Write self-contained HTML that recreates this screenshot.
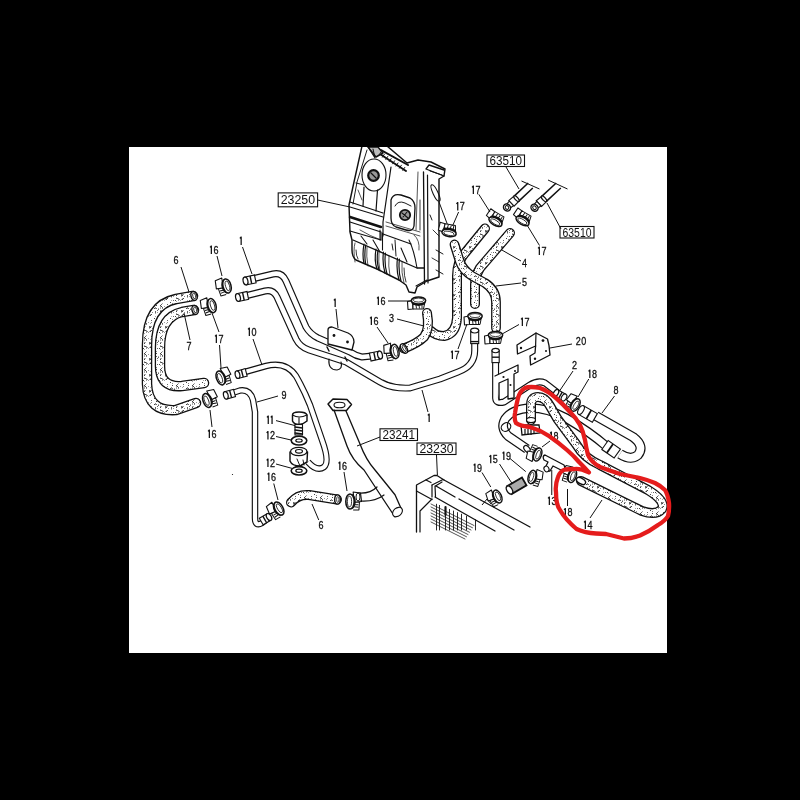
<!DOCTYPE html>
<html><head><meta charset="utf-8">
<style>
html,body{margin:0;padding:0;background:#000;width:800px;height:800px;overflow:hidden}
svg{position:absolute;left:0;top:0;will-change:transform}
text{font-family:"Liberation Sans",sans-serif;fill:#111}
</style></head><body>
<svg width="800" height="800" viewBox="0 0 800 800">
<defs>
<pattern id="st" width="16" height="16" patternUnits="userSpaceOnUse"><rect width="16" height="16" fill="#fff"/><rect x="0" y="1" width="1" height="1" fill="#444"/><rect x="0" y="2" width="1" height="1" fill="#aaa"/><rect x="0" y="3" width="1" height="1" fill="#aaa"/><rect x="0" y="4" width="1" height="1" fill="#aaa"/><rect x="0" y="6" width="1" height="1" fill="#999"/><rect x="0" y="7" width="1" height="1" fill="#444"/><rect x="0" y="9" width="1" height="1" fill="#aaa"/><rect x="0" y="10" width="1" height="1" fill="#666"/><rect x="0" y="13" width="1" height="1" fill="#aaa"/><rect x="1" y="0" width="1" height="1" fill="#666"/><rect x="1" y="2" width="1" height="1" fill="#444"/><rect x="1" y="6" width="1" height="1" fill="#aaa"/><rect x="1" y="10" width="1" height="1" fill="#444"/><rect x="2" y="3" width="1" height="1" fill="#666"/><rect x="2" y="4" width="1" height="1" fill="#888"/><rect x="2" y="10" width="1" height="1" fill="#999"/><rect x="2" y="11" width="1" height="1" fill="#888"/><rect x="2" y="12" width="1" height="1" fill="#999"/><rect x="2" y="15" width="1" height="1" fill="#aaa"/><rect x="3" y="11" width="1" height="1" fill="#888"/><rect x="4" y="2" width="1" height="1" fill="#999"/><rect x="4" y="12" width="1" height="1" fill="#999"/><rect x="5" y="6" width="1" height="1" fill="#666"/><rect x="5" y="7" width="1" height="1" fill="#666"/><rect x="5" y="8" width="1" height="1" fill="#aaa"/><rect x="5" y="11" width="1" height="1" fill="#aaa"/><rect x="6" y="3" width="1" height="1" fill="#aaa"/><rect x="6" y="6" width="1" height="1" fill="#999"/><rect x="6" y="7" width="1" height="1" fill="#444"/><rect x="6" y="10" width="1" height="1" fill="#aaa"/><rect x="6" y="11" width="1" height="1" fill="#444"/><rect x="7" y="0" width="1" height="1" fill="#666"/><rect x="7" y="2" width="1" height="1" fill="#888"/><rect x="7" y="6" width="1" height="1" fill="#999"/><rect x="7" y="10" width="1" height="1" fill="#444"/><rect x="8" y="8" width="1" height="1" fill="#888"/><rect x="10" y="4" width="1" height="1" fill="#444"/><rect x="10" y="14" width="1" height="1" fill="#444"/><rect x="11" y="3" width="1" height="1" fill="#888"/><rect x="11" y="4" width="1" height="1" fill="#999"/><rect x="11" y="7" width="1" height="1" fill="#666"/><rect x="11" y="8" width="1" height="1" fill="#666"/><rect x="11" y="9" width="1" height="1" fill="#aaa"/><rect x="11" y="12" width="1" height="1" fill="#aaa"/><rect x="12" y="1" width="1" height="1" fill="#444"/><rect x="12" y="4" width="1" height="1" fill="#666"/><rect x="12" y="15" width="1" height="1" fill="#888"/><rect x="13" y="6" width="1" height="1" fill="#666"/><rect x="13" y="8" width="1" height="1" fill="#999"/><rect x="13" y="12" width="1" height="1" fill="#666"/><rect x="14" y="4" width="1" height="1" fill="#aaa"/><rect x="14" y="5" width="1" height="1" fill="#666"/><rect x="15" y="12" width="1" height="1" fill="#444"/></pattern>
<clipPath id="cl"><rect x="129" y="147" width="538" height="506"/></clipPath>
</defs>
<rect x="129" y="147" width="538" height="506" fill="#fff"/>
<g clip-path="url(#cl)">
<path d="M362,146 L387,146 L407,163 L418,160 L431,162 L445,169 L444,176 L439,179 L439,277 L427,281 L417,287 L415,293 L409,292 L406,285 L399,280 L385,273 L377,269 L364,263.5 L356,260 Q352,257 352,250 L352,240 L350,232 L349,205 L354,182 Z" stroke="#111" stroke-width="1.44" fill="#fff" stroke-linejoin="round" stroke-linecap="round"/>
<path d="M377,152 L406,171 M381,150 L408,165" stroke="#111" stroke-width="1.92" fill="none" stroke-linejoin="round" stroke-linecap="round"/>
<path d="M368,147 L378,147 L383,153 L376,157 Z" stroke="#111" stroke-width="1.44" fill="#bbb" stroke-linejoin="round" stroke-linecap="round"/>
<path d="M381.0,152.0 L379.0,155.0" stroke="#111" stroke-width="0.96" fill="none" stroke-linejoin="round" stroke-linecap="round"/>
<path d="M384.4,154.2 L382.4,157.2" stroke="#111" stroke-width="0.96" fill="none" stroke-linejoin="round" stroke-linecap="round"/>
<path d="M387.8,156.4 L385.8,159.4" stroke="#111" stroke-width="0.96" fill="none" stroke-linejoin="round" stroke-linecap="round"/>
<path d="M391.2,158.6 L389.2,161.6" stroke="#111" stroke-width="0.96" fill="none" stroke-linejoin="round" stroke-linecap="round"/>
<path d="M394.6,160.8 L392.6,163.8" stroke="#111" stroke-width="0.96" fill="none" stroke-linejoin="round" stroke-linecap="round"/>
<path d="M398.0,163.0 L396.0,166.0" stroke="#111" stroke-width="0.96" fill="none" stroke-linejoin="round" stroke-linecap="round"/>
<path d="M401.4,165.2 L399.4,168.2" stroke="#111" stroke-width="0.96" fill="none" stroke-linejoin="round" stroke-linecap="round"/>
<path d="M404.8,167.4 L402.8,170.4" stroke="#111" stroke-width="0.96" fill="none" stroke-linejoin="round" stroke-linecap="round"/>
<path d="M368,147 L375,158 L373,149" stroke="#111" stroke-width="1.08" fill="none" stroke-linejoin="round" stroke-linecap="round"/>
<path d="M391,167 L383,222 L383,236" stroke="#111" stroke-width="1.20" fill="none" stroke-linejoin="round" stroke-linecap="round"/>
<path d="M367,150 L357,182 L353,204" stroke="#111" stroke-width="0.96" fill="none" stroke-linejoin="round" stroke-linecap="round"/>
<ellipse cx="374" cy="175" rx="12" ry="16" fill="none" stroke="#111" stroke-width="1.1" transform="rotate(0 374 175)"/>
<ellipse cx="373.5" cy="175.5" rx="5.3" ry="5.3" fill="#999" stroke="#111" stroke-width="2.2" transform="rotate(0 373.5 175.5)"/>
<path d="M371,173 L376,178" stroke="#111" stroke-width="1.20" fill="none" stroke-linejoin="round" stroke-linecap="round"/>
<path d="M364,187 L363,206 M377.5,190 L376,211" stroke="#111" stroke-width="1.20" fill="none" stroke-linejoin="round" stroke-linecap="round"/>
<path d="M356,183 L364,185" stroke="#111" stroke-width="0.96" fill="none" stroke-linejoin="round" stroke-linecap="round"/>
<path d="M350,202 L383,213" stroke="#111" stroke-width="1.20" fill="none" stroke-linejoin="round" stroke-linecap="round"/>
<path d="M350,207 L383,217" stroke="#111" stroke-width="1.08" fill="none" stroke-linejoin="round" stroke-linecap="round"/>
<path d="M350,217 L381,227" stroke="#111" stroke-width="2.40" fill="none" stroke-linejoin="round" stroke-linecap="round"/>
<path d="M350,222 L381,232 L381,240 L350,231" stroke="#111" stroke-width="1.20" fill="none" stroke-linejoin="round" stroke-linecap="round"/>
<path d="M353,240 L417,268 L424,268" stroke="#111" stroke-width="1.32" fill="none" stroke-linejoin="round" stroke-linecap="round"/>
<path d="M364,244 Q362,255 364,263.5 M365.7,245 Q364,255 365.7,264 M376,249 Q374,260 377,269 M378,250 Q376,260 379,270" stroke="#111" stroke-width="1.20" fill="none" stroke-linejoin="round" stroke-linecap="round"/>
<path d="M383.5,252 Q382,262 385,273 M385.5,253 Q384,263 387,274 M397.5,258 Q396,270 399,280 M399.5,259 Q398,270 401,281" stroke="#111" stroke-width="1.20" fill="none" stroke-linejoin="round" stroke-linecap="round"/>
<path d="M383,234 L411,244" stroke="#111" stroke-width="1.20" fill="none" stroke-linejoin="round" stroke-linecap="round"/>
<path d="M380,230 L380,240 M382.5,233 L382.5,250" stroke="#111" stroke-width="1.08" fill="none" stroke-linejoin="round" stroke-linecap="round"/>
<path d="M395,240 L396,256 M392,244 L393,250" stroke="#111" stroke-width="0.96" fill="none" stroke-linejoin="round" stroke-linecap="round"/>
<path d="M409,240 Q414,250 417,268" stroke="#111" stroke-width="1.08" fill="none" stroke-linejoin="round" stroke-linecap="round"/>
<path d="M361,236 L367,244 M373,240 L380,252 M401,248 L407,262" stroke="#111" stroke-width="1.08" fill="none" stroke-linejoin="round" stroke-linecap="round"/>
<path d="M416,286 L427,280" stroke="#111" stroke-width="1.08" fill="none" stroke-linejoin="round" stroke-linecap="round"/>
<path d="M355,262 Q353,250 355,243 M368,266 Q366,256 367,247 M380,271 Q378,262 379,252 M390,276 Q388,266 389,256 M404,283 Q401,272 402,262" stroke="#111" stroke-width="0.72" fill="none" stroke-linejoin="round" stroke-linecap="round"/>
<path d="M386,222 L420,232 M386,226 L420,236" stroke="#111" stroke-width="0.72" fill="none" stroke-linejoin="round" stroke-linecap="round"/>
<path d="M418,172 L416,230 M414,235 Q420,240 419,250" stroke="#111" stroke-width="0.72" fill="none" stroke-linejoin="round" stroke-linecap="round"/>
<path d="M358,190 L362,200 M360,230 Q370,236 381,240" stroke="#111" stroke-width="0.72" fill="none" stroke-linejoin="round" stroke-linecap="round"/>
<path d="M433,230 L439,236 M432,258 L439,262" stroke="#111" stroke-width="0.84" fill="none" stroke-linejoin="round" stroke-linecap="round"/>
<path d="M356,250 Q356,256 358,259 M404,268 Q404,276 406,282" stroke="#111" stroke-width="0.84" fill="none" stroke-linejoin="round" stroke-linecap="round"/>
<path d="M423.5,172 L424.5,284" stroke="#111" stroke-width="1.32" fill="none" stroke-linejoin="round" stroke-linecap="round"/>
<path d="M427.5,175 L428,283" stroke="#111" stroke-width="1.20" fill="none" stroke-linejoin="round" stroke-linecap="round"/>
<path d="M420,200 L420,230" stroke="#111" stroke-width="0.84" fill="none" stroke-linejoin="round" stroke-linecap="round"/>
<path d="M426,169 L444,176 M426,169 L429,165 L444,170" stroke="#111" stroke-width="1.32" fill="none" stroke-linejoin="round" stroke-linecap="round"/>
<path d="M430,171 L442,175" stroke="#111" stroke-width="0.96" fill="none" stroke-linejoin="round" stroke-linecap="round"/>
<path d="M391,200 Q393,193 401,195 L410,198 Q415,201 415,208 L414,226 Q413,232 406,230 L396,227 Q391,225 391,218 Z" stroke="#111" stroke-width="1.32" fill="none" stroke-linejoin="round" stroke-linecap="round"/>
<path d="M395,206 Q398,200 405,203 L411,206" stroke="#111" stroke-width="0.96" fill="none" stroke-linejoin="round" stroke-linecap="round"/>
<ellipse cx="405" cy="215" rx="5.2" ry="5.2" fill="#999" stroke="#111" stroke-width="1.8" transform="rotate(0 405 215)"/>
<path d="M402,213 L408,218 M403,217 L407,212" stroke="#111" stroke-width="1.08" fill="none" stroke-linejoin="round" stroke-linecap="round"/>
<ellipse cx="435.5" cy="193" rx="2.5" ry="9" fill="none" stroke="#111" stroke-width="1.1" transform="rotate(-25 435.5 193)"/>
<path d="M439,202 L448,226" stroke="#111" stroke-width="1.0" fill="none"/>
<path d="M430,215 L432,220 M436,250 L443,254 M436,270 L443,274" stroke="#111" stroke-width="0.96" fill="none" stroke-linejoin="round" stroke-linecap="round"/>
<rect x="278.2" y="192.9" width="39.400000000000034" height="13.900000000000006" fill="#fff" stroke="#111" stroke-width="1.1"/>
<text x="297.9" y="204.35000000000002" font-size="12.5" text-anchor="middle" textLength="34.400000000000034" lengthAdjust="spacingAndGlyphs">23250</text>
<path d="M317.6,200 L350,207" stroke="#111" stroke-width="1.0" fill="none"/>
<path d="M193,296 L176,299 Q147,305 147,345 L147,384 Q148,412 176,410 L196,403" stroke="#111" stroke-width="10.5" fill="none" stroke-linecap="round" stroke-linejoin="round"/>
<path d="M193,296 L176,299 Q147,305 147,345 L147,384 Q148,412 176,410 L196,403" stroke="url(#st)" stroke-width="7.9" fill="none" stroke-linecap="round" stroke-linejoin="round"/>
<path d="M194,310 L182,312 Q160,317 160,348 L160,366 Q160,388 182,386 L204,383" stroke="#111" stroke-width="10.5" fill="none" stroke-linecap="round" stroke-linejoin="round"/>
<path d="M194,310 L182,312 Q160,317 160,348 L160,366 Q160,388 182,386 L204,383" stroke="url(#st)" stroke-width="7.9" fill="none" stroke-linecap="round" stroke-linejoin="round"/>
<ellipse cx="194" cy="296" rx="3" ry="4.6" fill="#fff" stroke="#111" stroke-width="1.4" transform="rotate(-15 194 296)"/>
<ellipse cx="194.2" cy="296" rx="1.4" ry="3" fill="#fff" stroke="#111" stroke-width="0.8" transform="rotate(-15 194.2 296)"/>
<ellipse cx="195" cy="310" rx="3" ry="4.6" fill="#fff" stroke="#111" stroke-width="1.4" transform="rotate(-15 195 310)"/>
<ellipse cx="195.2" cy="310" rx="1.4" ry="3" fill="#fff" stroke="#111" stroke-width="0.8" transform="rotate(-15 195.2 310)"/>
<text x="0" y="0" font-size="11" text-anchor="start" stroke="#111" stroke-width="0.3" transform="translate(173.49,263.96) scale(0.82,1)">6</text>
<path d="M181,267 L189,292" stroke="#111" stroke-width="1.0" fill="none"/>
<text x="0" y="0" font-size="11" text-anchor="start" stroke="#111" stroke-width="0.3" transform="translate(186.49,349.96) scale(0.82,1)">7</text>
<path d="M190,340 L184,313" stroke="#111" stroke-width="1.0" fill="none"/>
<g transform="translate(227,286) rotate(-15) scale(-1.0,1.0)"><path d="M3,-9 L10,-8 L11,0 L4,1 Z" fill="#fff" stroke="#111" stroke-width="1.1" stroke-linejoin="round"/><path d="M3,1 L9,0.5 L8.5,8 L3,8" fill="#fff" stroke="#111" stroke-width="1.0" stroke-linejoin="round"/><path d="M4,3 L8,3 M4,5 L8,5.5" stroke="#111" stroke-width="1.0"/><path d="M0,-7.2 A4,7.2 0 0 1 0,7.2 L1.5,7.2 A4,7.2 0 0 0 1.5,-7.2 Z" fill="#111"/><ellipse cx="0" cy="0" rx="4" ry="7.2" fill="#fff" stroke="#111" stroke-width="1.5"/><ellipse cx="-0.5" cy="0" rx="2" ry="5" fill="none" stroke="#111" stroke-width="0.8"/></g>
<path d="M210.05,247.40 L211.35,246.05 L211.35,253.95" stroke="#111" stroke-width="1.25" fill="none" stroke-linejoin="round"/>
<text x="0" y="0" font-size="11" text-anchor="start" stroke="#111" stroke-width="0.3" transform="translate(213.39,253.96) scale(0.82,1)">6</text>
<path d="M217,256 L222,276" stroke="#111" stroke-width="1.0" fill="none"/>
<g transform="translate(212,305.6) rotate(-15) scale(-1.0,1.0)"><path d="M3,-9 L10,-8 L11,0 L4,1 Z" fill="#fff" stroke="#111" stroke-width="1.1" stroke-linejoin="round"/><path d="M3,1 L9,0.5 L8.5,8 L3,8" fill="#fff" stroke="#111" stroke-width="1.0" stroke-linejoin="round"/><path d="M4,3 L8,3 M4,5 L8,5.5" stroke="#111" stroke-width="1.0"/><path d="M0,-7.2 A4,7.2 0 0 1 0,7.2 L1.5,7.2 A4,7.2 0 0 0 1.5,-7.2 Z" fill="#111"/><ellipse cx="0" cy="0" rx="4" ry="7.2" fill="#fff" stroke="#111" stroke-width="1.5"/><ellipse cx="-0.5" cy="0" rx="2" ry="5" fill="none" stroke="#111" stroke-width="0.8"/></g>
<path d="M215.05,336.40 L216.35,335.05 L216.35,342.95" stroke="#111" stroke-width="1.25" fill="none" stroke-linejoin="round"/>
<text x="0" y="0" font-size="11" text-anchor="start" stroke="#111" stroke-width="0.3" transform="translate(218.39,342.96) scale(0.82,1)">7</text>
<path d="M219,332 L212,313" stroke="#111" stroke-width="1.0" fill="none"/>
<path d="M219.5,345 L221,368" stroke="#111" stroke-width="1.0" fill="none"/>
<g transform="translate(220.5,378) rotate(-20) scale(1.0,1.0)"><path d="M3,-9 L10,-8 L11,0 L4,1 Z" fill="#fff" stroke="#111" stroke-width="1.1" stroke-linejoin="round"/><path d="M3,1 L9,0.5 L8.5,8 L3,8" fill="#fff" stroke="#111" stroke-width="1.0" stroke-linejoin="round"/><path d="M4,3 L8,3 M4,5 L8,5.5" stroke="#111" stroke-width="1.0"/><path d="M0,-7.2 A4,7.2 0 0 1 0,7.2 L1.5,7.2 A4,7.2 0 0 0 1.5,-7.2 Z" fill="#111"/><ellipse cx="0" cy="0" rx="4" ry="7.2" fill="#fff" stroke="#111" stroke-width="1.5"/><ellipse cx="-0.5" cy="0" rx="2" ry="5" fill="none" stroke="#111" stroke-width="0.8"/></g>
<g transform="translate(207,400.5) rotate(-20) scale(1.0,1.0)"><path d="M3,-9 L10,-8 L11,0 L4,1 Z" fill="#fff" stroke="#111" stroke-width="1.1" stroke-linejoin="round"/><path d="M3,1 L9,0.5 L8.5,8 L3,8" fill="#fff" stroke="#111" stroke-width="1.0" stroke-linejoin="round"/><path d="M4,3 L8,3 M4,5 L8,5.5" stroke="#111" stroke-width="1.0"/><path d="M0,-7.2 A4,7.2 0 0 1 0,7.2 L1.5,7.2 A4,7.2 0 0 0 1.5,-7.2 Z" fill="#111"/><ellipse cx="0" cy="0" rx="4" ry="7.2" fill="#fff" stroke="#111" stroke-width="1.5"/><ellipse cx="-0.5" cy="0" rx="2" ry="5" fill="none" stroke="#111" stroke-width="0.8"/></g>
<path d="M208.05,431.40 L209.35,430.05 L209.35,437.95" stroke="#111" stroke-width="1.25" fill="none" stroke-linejoin="round"/>
<text x="0" y="0" font-size="11" text-anchor="start" stroke="#111" stroke-width="0.3" transform="translate(211.39,437.96) scale(0.82,1)">6</text>
<path d="M210,410 L212,427" stroke="#111" stroke-width="1.0" fill="none"/>
<path d="M252,279 L273,274 Q282,272 286,281 L306,327 Q310,334 318,338 L350,352 Q356,356 362,357 L372,356" stroke="#111" stroke-width="7" fill="none" stroke-linecap="butt" stroke-linejoin="round"/>
<path d="M252,279 L273,274 Q282,272 286,281 L306,327 Q310,334 318,338 L350,352 Q356,356 362,357 L372,356" stroke="#fff" stroke-width="4.7" fill="none" stroke-linecap="butt" stroke-linejoin="round"/>
<path d="M245,296 L265,291 Q273,289 277,297 L296,339 Q300,347 309,350 L346,362 L380,382 Q392,389 410,388 L440,379 L458,372 Q475,366 474.7,350 L474.7,336" stroke="#111" stroke-width="7" fill="none" stroke-linecap="butt" stroke-linejoin="round"/>
<path d="M245,296 L265,291 Q273,289 277,297 L296,339 Q300,347 309,350 L346,362 L380,382 Q392,389 410,388 L440,379 L458,372 Q475,366 474.7,350 L474.7,336" stroke="#fff" stroke-width="4.7" fill="none" stroke-linecap="butt" stroke-linejoin="round"/>
<g transform="translate(245.5,281) rotate(-12)"><rect x="0" y="-4" width="10" height="8" fill="#fff" stroke="#111" stroke-width="1.1"/><path d="M5.5,-4 L5.5,4" stroke="#111" stroke-width="1.4"/><ellipse cx="0" cy="0" rx="2.4" ry="4" fill="#fff" stroke="#111" stroke-width="1.2"/></g>
<g transform="translate(238,297.5) rotate(-12)"><rect x="0" y="-4" width="10" height="8" fill="#fff" stroke="#111" stroke-width="1.1"/><path d="M5.5,-4 L5.5,4" stroke="#111" stroke-width="1.4"/><ellipse cx="0" cy="0" rx="2.4" ry="4" fill="#fff" stroke="#111" stroke-width="1.2"/></g>
<g transform="translate(380,355) rotate(168)"><rect x="0" y="-4" width="10" height="8" fill="#fff" stroke="#111" stroke-width="1.1"/><path d="M5.5,-4 L5.5,4" stroke="#111" stroke-width="1.4"/><ellipse cx="0" cy="0" rx="2.4" ry="4" fill="#fff" stroke="#111" stroke-width="1.2"/></g>
<g transform="translate(474.7,330.6) rotate(90)"><rect x="0" y="-4" width="13" height="8" fill="#fff" stroke="#111" stroke-width="1.1"/><path d="M11,-4 L11,4" stroke="#111" stroke-width="1.4"/><ellipse cx="0" cy="0" rx="2.4" ry="4" fill="#fff" stroke="#111" stroke-width="1.2"/></g>
<path d="M239.86,238.40 L241.16,237.05 L241.16,244.95" stroke="#111" stroke-width="1.25" fill="none" stroke-linejoin="round"/>
<path d="M242.5,247 L252,274" stroke="#111" stroke-width="1.0" fill="none"/>
<path d="M328,330 Q328,327 332,327 L348,333 Q354,336 354,342 L352,350 L328,344 Z" stroke="#111" stroke-width="1.32" fill="#fff" stroke-linejoin="round" stroke-linecap="round"/>
<circle cx="334" cy="335.5" r="1.4" fill="#111"/><circle cx="347.5" cy="342" r="1.4" fill="#111"/>
<path d="M329,359 Q328,370 337,370 Q343,369 341,362" stroke="#111" stroke-width="1.20" fill="none" stroke-linejoin="round" stroke-linecap="round"/>
<path d="M327,347 L329,351 M345,357 L347,361" stroke="#111" stroke-width="1.44" fill="none" stroke-linejoin="round" stroke-linecap="round"/>
<path d="M333.86,300.40 L335.16,299.05 L335.16,306.95" stroke="#111" stroke-width="1.25" fill="none" stroke-linejoin="round"/>
<path d="M336,309 L338,328" stroke="#111" stroke-width="1.0" fill="none"/>
<path d="M427.86,415.40 L429.16,414.05 L429.16,421.95" stroke="#111" stroke-width="1.25" fill="none" stroke-linejoin="round"/>
<path d="M428,412 L422,390" stroke="#111" stroke-width="1.0" fill="none"/>
<path d="M243,372.5 L266,366 Q286,361 296,376 Q304,390 310,405 L322,440 Q330,462 324,467 Q317,472 308,462" stroke="#111" stroke-width="6.5" fill="none" stroke-linecap="butt" stroke-linejoin="round"/>
<path d="M243,372.5 L266,366 Q286,361 296,376 Q304,390 310,405 L322,440 Q330,462 324,467 Q317,472 308,462" stroke="#fff" stroke-width="4.2" fill="none" stroke-linecap="butt" stroke-linejoin="round"/>
<path d="M231,393.5 L240,390.5 Q250,389 253,400 L255,412 L255,518 Q255,527 262,523 L266,520" stroke="#111" stroke-width="6.5" fill="none" stroke-linecap="butt" stroke-linejoin="round"/>
<path d="M231,393.5 L240,390.5 Q250,389 253,400 L255,412 L255,518 Q255,527 262,523 L266,520" stroke="#fff" stroke-width="4.2" fill="none" stroke-linecap="butt" stroke-linejoin="round"/>
<g transform="translate(237.5,374.7) rotate(-15)"><rect x="0" y="-3.8" width="9" height="7.6" fill="#fff" stroke="#111" stroke-width="1.1"/><path d="M4.95,-3.8 L4.95,3.8" stroke="#111" stroke-width="1.4"/><ellipse cx="0" cy="0" rx="2.28" ry="3.8" fill="#fff" stroke="#111" stroke-width="1.2"/></g>
<g transform="translate(225.8,395.3) rotate(-15)"><rect x="0" y="-3.8" width="9" height="7.6" fill="#fff" stroke="#111" stroke-width="1.1"/><path d="M4.95,-3.8 L4.95,3.8" stroke="#111" stroke-width="1.4"/><ellipse cx="0" cy="0" rx="2.28" ry="3.8" fill="#fff" stroke="#111" stroke-width="1.2"/></g>
<g transform="translate(269,517) rotate(150)"><rect x="0" y="-3.8" width="9" height="7.6" fill="#fff" stroke="#111" stroke-width="1.1"/><path d="M4.95,-3.8 L4.95,3.8" stroke="#111" stroke-width="1.4"/><ellipse cx="0" cy="0" rx="2.28" ry="3.8" fill="#fff" stroke="#111" stroke-width="1.2"/></g>
<path d="M248.05,329.40 L249.35,328.05 L249.35,335.95" stroke="#111" stroke-width="1.25" fill="none" stroke-linejoin="round"/>
<text x="0" y="0" font-size="11" text-anchor="start" stroke="#111" stroke-width="0.3" transform="translate(251.39,335.96) scale(0.82,1)">0</text>
<path d="M253,339 L262,365" stroke="#111" stroke-width="1.0" fill="none"/>
<text x="0" y="0" font-size="11" text-anchor="start" stroke="#111" stroke-width="0.3" transform="translate(281.49,398.96) scale(0.82,1)">9</text>
<path d="M278,396 L257,402" stroke="#111" stroke-width="1.0" fill="none"/>
<path d="M292.5,415 Q292.5,412 299,412 Q306,412 307,415 L307,421 Q303,424.5 299,424.5 Q294,424.5 292.5,421 Z" stroke="#111" stroke-width="1.44" fill="#fff" stroke-linejoin="round" stroke-linecap="round"/>
<path d="M292.5,415 Q299,419 307,415 M299,418 L299,424" stroke="#111" stroke-width="1.08" fill="none" stroke-linejoin="round" stroke-linecap="round"/>
<rect x="295" y="424.5" width="7.5" height="10.5" fill="#fff" stroke="#111" stroke-width="1.1"/>
<path d="M295,427 L302.5,428 M295,430 L302.5,431 M295,433 L302.5,434" stroke="#111" stroke-width="1.32" fill="none" stroke-linejoin="round" stroke-linecap="round"/>
<ellipse cx="299" cy="440.6" rx="7.8" ry="4.4" fill="#fff" stroke="#111" stroke-width="1.6" transform="rotate(0 299 440.6)"/>
<ellipse cx="299" cy="440.6" rx="3.2" ry="1.6" fill="#fff" stroke="#111" stroke-width="1.2" transform="rotate(0 299 440.6)"/>
<path d="M290,452 L290,461 Q292,466 300,466 L307,462 L307.5,452" stroke="#111" stroke-width="1.44" fill="#fff" stroke-linejoin="round" stroke-linecap="round"/>
<ellipse cx="298.75" cy="451.5" rx="8.2" ry="4.2" fill="#fff" stroke="#111" stroke-width="1.3" transform="rotate(0 298.75 451.5)"/>
<ellipse cx="299" cy="451.3" rx="3.5" ry="1.8" fill="#fff" stroke="#111" stroke-width="1.1" transform="rotate(0 299 451.3)"/>
<path d="M297,459 L300,466 M303,460 L304,465" stroke="#111" stroke-width="0.96" fill="none" stroke-linejoin="round" stroke-linecap="round"/>
<ellipse cx="299" cy="470.8" rx="7.8" ry="4.2" fill="#fff" stroke="#111" stroke-width="1.6" transform="rotate(0 299 470.8)"/>
<ellipse cx="299" cy="470.8" rx="3.2" ry="1.6" fill="#fff" stroke="#111" stroke-width="1.2" transform="rotate(0 299 470.8)"/>
<path d="M266.96,417.40 L268.26,416.05 L268.26,423.95" stroke="#111" stroke-width="1.25" fill="none" stroke-linejoin="round"/>
<path d="M270.76,417.40 L272.06,416.05 L272.06,423.95" stroke="#111" stroke-width="1.25" fill="none" stroke-linejoin="round"/>
<path d="M276,420.6 L295,425.6" stroke="#111" stroke-width="1.0" fill="none"/>
<path d="M266.65,432.90 L267.95,431.55 L267.95,439.45" stroke="#111" stroke-width="1.25" fill="none" stroke-linejoin="round"/>
<text x="0" y="0" font-size="11" text-anchor="start" stroke="#111" stroke-width="0.3" transform="translate(269.99,439.46) scale(0.82,1)">2</text>
<path d="M276,436.5 L291,440" stroke="#111" stroke-width="1.0" fill="none"/>
<path d="M266.65,460.40 L267.95,459.05 L267.95,466.95" stroke="#111" stroke-width="1.25" fill="none" stroke-linejoin="round"/>
<text x="0" y="0" font-size="11" text-anchor="start" stroke="#111" stroke-width="0.3" transform="translate(269.99,466.96) scale(0.82,1)">2</text>
<path d="M276,464 L292.5,468.5" stroke="#111" stroke-width="1.0" fill="none"/>
<path d="M267.55,474.40 L268.85,473.05 L268.85,480.95" stroke="#111" stroke-width="1.25" fill="none" stroke-linejoin="round"/>
<text x="0" y="0" font-size="11" text-anchor="start" stroke="#111" stroke-width="0.3" transform="translate(270.89,480.96) scale(0.82,1)">6</text>
<path d="M273.75,483.5 L278,500" stroke="#111" stroke-width="1.0" fill="none"/>
<circle cx="232.5" cy="474.5" r="0.6" fill="#111"/>
<path d="M291,502.5 Q298,494 309,495 L337,499.5" stroke="#111" stroke-width="10" fill="none" stroke-linecap="round" stroke-linejoin="round"/>
<path d="M291,502.5 Q298,494 309,495 L337,499.5" stroke="url(#st)" stroke-width="7.4" fill="none" stroke-linecap="round" stroke-linejoin="round"/>
<ellipse cx="337.5" cy="499.5" rx="2.8" ry="4.6" fill="#fff" stroke="#111" stroke-width="1.4" transform="rotate(0 337.5 499.5)"/>
<ellipse cx="337.8" cy="499.5" rx="1.2" ry="3" fill="#fff" stroke="#111" stroke-width="0.8" transform="rotate(0 337.8 499.5)"/>
<g transform="translate(279,508.5) rotate(-30) scale(-1.0,1.0)"><path d="M3,-9 L10,-8 L11,0 L4,1 Z" fill="#fff" stroke="#111" stroke-width="1.1" stroke-linejoin="round"/><path d="M3,1 L9,0.5 L8.5,8 L3,8" fill="#fff" stroke="#111" stroke-width="1.0" stroke-linejoin="round"/><path d="M4,3 L8,3 M4,5 L8,5.5" stroke="#111" stroke-width="1.0"/><path d="M0,-7.2 A4,7.2 0 0 1 0,7.2 L1.5,7.2 A4,7.2 0 0 0 1.5,-7.2 Z" fill="#111"/><ellipse cx="0" cy="0" rx="4" ry="7.2" fill="#fff" stroke="#111" stroke-width="1.5"/><ellipse cx="-0.5" cy="0" rx="2" ry="5" fill="none" stroke="#111" stroke-width="0.8"/></g>
<g transform="translate(350,501.5) rotate(0) scale(1.05,1.05)"><path d="M3,-9 L10,-8 L11,0 L4,1 Z" fill="#fff" stroke="#111" stroke-width="1.1" stroke-linejoin="round"/><path d="M3,1 L9,0.5 L8.5,8 L3,8" fill="#fff" stroke="#111" stroke-width="1.0" stroke-linejoin="round"/><path d="M4,3 L8,3 M4,5 L8,5.5" stroke="#111" stroke-width="1.0"/><path d="M0,-7.2 A4,7.2 0 0 1 0,7.2 L1.5,7.2 A4,7.2 0 0 0 1.5,-7.2 Z" fill="#111"/><ellipse cx="0" cy="0" rx="4" ry="7.2" fill="#fff" stroke="#111" stroke-width="1.5"/><ellipse cx="-0.5" cy="0" rx="2" ry="5" fill="none" stroke="#111" stroke-width="0.8"/></g>
<text x="0" y="0" font-size="11" text-anchor="start" stroke="#111" stroke-width="0.3" transform="translate(318.49,528.96) scale(0.82,1)">6</text>
<path d="M318.75,520 L312,504" stroke="#111" stroke-width="1.0" fill="none"/>
<path d="M338.55,463.40 L339.85,462.05 L339.85,469.95" stroke="#111" stroke-width="1.25" fill="none" stroke-linejoin="round"/>
<text x="0" y="0" font-size="11" text-anchor="start" stroke="#111" stroke-width="0.3" transform="translate(341.89,469.96) scale(0.82,1)">6</text>
<path d="M344,472 L347,491" stroke="#111" stroke-width="1.0" fill="none"/>
<path d="M328,404 L333,399 L347,399.5 L351.5,404.5 L346.5,410.5 L333,410.5 Z" stroke="#111" stroke-width="1.44" fill="#fff" stroke-linejoin="round" stroke-linecap="round"/>
<ellipse cx="339.5" cy="405" rx="5.5" ry="2.8" fill="#fff" stroke="#111" stroke-width="1.1" transform="rotate(0 339.5 405)"/>
<path d="M334,410 L347,446 Q352,460 364,470 L381.75,497 L395,517" stroke="#111" stroke-width="1.32" fill="none" stroke-linejoin="round" stroke-linecap="round"/>
<path d="M346,411 L360,444 Q366,460 375,470 L395,494.75 L402,510.5" stroke="#111" stroke-width="1.32" fill="none" stroke-linejoin="round" stroke-linecap="round"/>
<ellipse cx="397.5" cy="512" rx="5.5" ry="4" fill="#fff" stroke="#111" stroke-width="1.1" transform="rotate(-40 397.5 512)"/>
<path d="M377,487 Q370,494 358,493 M384,495 Q375,502 360,501" stroke="#111" stroke-width="1.20" fill="none" stroke-linejoin="round" stroke-linecap="round"/>
<ellipse cx="358" cy="497" rx="2" ry="4" fill="#fff" stroke="#111" stroke-width="1" transform="rotate(0 358 497)"/>
<rect x="380" y="428.8" width="37.5" height="11.699999999999989" fill="#fff" stroke="#111" stroke-width="1.1"/>
<text x="398.75" y="439.15" font-size="12.5" text-anchor="middle" textLength="32.5" lengthAdjust="spacingAndGlyphs">23241</text>
<path d="M380,437 L357,446" stroke="#111" stroke-width="1.0" fill="none"/>
<rect x="417" y="443" width="39" height="11.5" fill="#fff" stroke="#111" stroke-width="1.1"/>
<text x="436.5" y="453.25" font-size="12.5" text-anchor="middle" textLength="34" lengthAdjust="spacingAndGlyphs">23230</text>
<path d="M436.5,455 L437.4,475" stroke="#111" stroke-width="1.0" fill="none"/>
<path d="M416.5,532 L416.5,485 L434,475.5 L437,475.5 L444,480" stroke="#111" stroke-width="1.32" fill="none" stroke-linejoin="round" stroke-linecap="round"/>
<path d="M426,480 L431,482.5" stroke="#111" stroke-width="1.20" fill="none" stroke-linejoin="round" stroke-linecap="round"/>
<path d="M416.5,491 L432,499.5" stroke="#111" stroke-width="1.20" fill="none" stroke-linejoin="round" stroke-linecap="round"/>
<path d="M432,485 L432,497 M435,486 L435.5,496.5" stroke="#111" stroke-width="1.20" fill="none" stroke-linejoin="round" stroke-linecap="round"/>
<path d="M432,485 L443,479.5 M435.5,486 L442,482" stroke="#111" stroke-width="1.20" fill="none" stroke-linejoin="round" stroke-linecap="round"/>
<path d="M444,480 L530,527" stroke="#111" stroke-width="1.32" fill="none" stroke-linejoin="round" stroke-linecap="round"/>
<path d="M436,486 L455,497 M459,499 L514,530" stroke="#111" stroke-width="1.32" fill="none" stroke-linejoin="round" stroke-linecap="round"/>
<path d="M435,497 L495,531" stroke="#111" stroke-width="1.32" fill="none" stroke-linejoin="round" stroke-linecap="round"/>
<path d="M420,532 L420,511 L432,499" stroke="#111" stroke-width="1.20" fill="none" stroke-linejoin="round" stroke-linecap="round"/>
<path d="M431,504 L474.0,525.5" stroke="#111" stroke-width="0.72" fill="none" stroke-linejoin="round" stroke-linecap="round"/>
<path d="M431,507 L472.5,527.75" stroke="#111" stroke-width="0.72" fill="none" stroke-linejoin="round" stroke-linecap="round"/>
<path d="M431,510 L471.0,530.0" stroke="#111" stroke-width="0.72" fill="none" stroke-linejoin="round" stroke-linecap="round"/>
<path d="M431,513 L469.5,532.25" stroke="#111" stroke-width="0.72" fill="none" stroke-linejoin="round" stroke-linecap="round"/>
<path d="M431,516 L468.0,534.5" stroke="#111" stroke-width="0.72" fill="none" stroke-linejoin="round" stroke-linecap="round"/>
<path d="M431,519 L466.5,536.75" stroke="#111" stroke-width="0.72" fill="none" stroke-linejoin="round" stroke-linecap="round"/>
<path d="M431,522 L465.0,539.0" stroke="#111" stroke-width="0.72" fill="none" stroke-linejoin="round" stroke-linecap="round"/>
<path d="M436.5,504.2 L436.5,530" stroke="#111" stroke-width="0.90" fill="none" stroke-linejoin="round" stroke-linecap="round"/>
<path d="M439.5,505.4 L439.5,530" stroke="#111" stroke-width="0.90" fill="none" stroke-linejoin="round" stroke-linecap="round"/>
<path d="M445.5,507.8 L445.5,530" stroke="#111" stroke-width="0.90" fill="none" stroke-linejoin="round" stroke-linecap="round"/>
<path d="M449.5,509.4 L449.5,530" stroke="#111" stroke-width="0.90" fill="none" stroke-linejoin="round" stroke-linecap="round"/>
<path d="M453.5,511.0 L453.5,530" stroke="#111" stroke-width="0.90" fill="none" stroke-linejoin="round" stroke-linecap="round"/>
<path d="M457.5,512.6 L457.5,530" stroke="#111" stroke-width="0.90" fill="none" stroke-linejoin="round" stroke-linecap="round"/>
<path d="M461.5,514.2 L461.5,530" stroke="#111" stroke-width="0.90" fill="none" stroke-linejoin="round" stroke-linecap="round"/>
<path d="M466.5,516.2 L466.5,530" stroke="#111" stroke-width="0.90" fill="none" stroke-linejoin="round" stroke-linecap="round"/>
<path d="M475.5,519.8 L475.5,530" stroke="#111" stroke-width="0.90" fill="none" stroke-linejoin="round" stroke-linecap="round"/>
<path d="M445.5,507 L445.5,515" stroke="#111" stroke-width="2.16" fill="none" stroke-linejoin="round" stroke-linecap="round"/>
<path d="M485,228.5 L465,253 Q457,262 457,276 L457,318 Q456,334 444,336 Q436,336 431,331" stroke="#111" stroke-width="10" fill="none" stroke-linecap="round" stroke-linejoin="round"/>
<path d="M485,228.5 L465,253 Q457,262 457,276 L457,318 Q456,334 444,336 Q436,336 431,331" stroke="url(#st)" stroke-width="7.4" fill="none" stroke-linecap="round" stroke-linejoin="round"/>
<path d="M404,348.5 Q418,343 424,337 Q430,329 427,313" stroke="#111" stroke-width="10" fill="none" stroke-linecap="round" stroke-linejoin="round"/>
<path d="M404,348.5 Q418,343 424,337 Q430,329 427,313" stroke="url(#st)" stroke-width="7.4" fill="none" stroke-linecap="round" stroke-linejoin="round"/>
<ellipse cx="404" cy="348.5" rx="2.8" ry="5.2" fill="#fff" stroke="#111" stroke-width="1.4" transform="rotate(-30 404 348.5)"/>
<ellipse cx="404.3" cy="348.5" rx="1.2" ry="3.5" fill="#fff" stroke="#111" stroke-width="0.8" transform="rotate(-30 404.3 348.5)"/>
<path d="M475,304 L475,285 Q475,276 480,268 L510,233" stroke="#111" stroke-width="10" fill="none" stroke-linecap="round" stroke-linejoin="round"/>
<path d="M475,304 L475,285 Q475,276 480,268 L510,233" stroke="url(#st)" stroke-width="7.4" fill="none" stroke-linecap="round" stroke-linejoin="round"/>
<path d="M454.5,244.5 L460,262 Q463,270 472,276 L485,283 Q496,290 496,302 L496,328" stroke="#111" stroke-width="9.8" fill="none" stroke-linecap="round" stroke-linejoin="round"/>
<path d="M454.5,244.5 L460,262 Q463,270 472,276 L485,283 Q496,290 496,302 L496,328" stroke="url(#st)" stroke-width="7.200000000000001" fill="none" stroke-linecap="round" stroke-linejoin="round"/>
<g transform="translate(418.5,300.5) rotate(0) scale(1.0,1.0)"><path d="M-11,1 L-6,0 L-5.5,8.5 L-10.5,9 Z" fill="#fff" stroke="#111" stroke-width="1.1" stroke-linejoin="round"/><path d="M-5.5,4 L6,3.5 L5,8.5 L-5.5,8.5 Z" fill="#fff" stroke="#111" stroke-width="1.0" stroke-linejoin="round"/><path d="M-2.5,4.5 L-2,8 M0.5,4.5 L1,8 M3.5,4 L3.5,8" stroke="#111" stroke-width="0.9"/><path d="M-7.2,0 A7.2,3.6 0 0 0 7.2,0 L7.2,1.8 A7.2,3.6 0 0 1 -7.2,1.8 Z" fill="#111"/><ellipse cx="0" cy="0" rx="7.2" ry="3.6" fill="#fff" stroke="#111" stroke-width="1.5"/><ellipse cx="0" cy="-0.4" rx="5.2" ry="2" fill="none" stroke="#111" stroke-width="0.8"/></g>
<g transform="translate(395,351.5) rotate(-10) scale(-1.0,1.0)"><path d="M3,-9 L10,-8 L11,0 L4,1 Z" fill="#fff" stroke="#111" stroke-width="1.1" stroke-linejoin="round"/><path d="M3,1 L9,0.5 L8.5,8 L3,8" fill="#fff" stroke="#111" stroke-width="1.0" stroke-linejoin="round"/><path d="M4,3 L8,3 M4,5 L8,5.5" stroke="#111" stroke-width="1.0"/><path d="M0,-7.2 A4,7.2 0 0 1 0,7.2 L1.5,7.2 A4,7.2 0 0 0 1.5,-7.2 Z" fill="#111"/><ellipse cx="0" cy="0" rx="4" ry="7.2" fill="#fff" stroke="#111" stroke-width="1.5"/><ellipse cx="-0.5" cy="0" rx="2" ry="5" fill="none" stroke="#111" stroke-width="0.8"/></g>
<path d="M377.05,298.40 L378.35,297.05 L378.35,304.95" stroke="#111" stroke-width="1.25" fill="none" stroke-linejoin="round"/>
<text x="0" y="0" font-size="11" text-anchor="start" stroke="#111" stroke-width="0.3" transform="translate(380.39,304.96) scale(0.82,1)">6</text>
<path d="M388,301 L411.5,301" stroke="#111" stroke-width="1.0" fill="none"/>
<path d="M370.05,318.40 L371.35,317.05 L371.35,324.95" stroke="#111" stroke-width="1.25" fill="none" stroke-linejoin="round"/>
<text x="0" y="0" font-size="11" text-anchor="start" stroke="#111" stroke-width="0.3" transform="translate(373.39,324.96) scale(0.82,1)">6</text>
<path d="M377,327 L388,343" stroke="#111" stroke-width="1.0" fill="none"/>
<text x="0" y="0" font-size="11" text-anchor="start" stroke="#111" stroke-width="0.3" transform="translate(388.89,321.96) scale(0.82,1)">3</text>
<path d="M397,319 L424,326" stroke="#111" stroke-width="1.0" fill="none"/>
<g transform="translate(475,316) rotate(0) scale(1.0,1.0)"><path d="M-11,1 L-6,0 L-5.5,8.5 L-10.5,9 Z" fill="#fff" stroke="#111" stroke-width="1.1" stroke-linejoin="round"/><path d="M-5.5,4 L6,3.5 L5,8.5 L-5.5,8.5 Z" fill="#fff" stroke="#111" stroke-width="1.0" stroke-linejoin="round"/><path d="M-2.5,4.5 L-2,8 M0.5,4.5 L1,8 M3.5,4 L3.5,8" stroke="#111" stroke-width="0.9"/><path d="M-7.2,0 A7.2,3.6 0 0 0 7.2,0 L7.2,1.8 A7.2,3.6 0 0 1 -7.2,1.8 Z" fill="#111"/><ellipse cx="0" cy="0" rx="7.2" ry="3.6" fill="#fff" stroke="#111" stroke-width="1.5"/><ellipse cx="0" cy="-0.4" rx="5.2" ry="2" fill="none" stroke="#111" stroke-width="0.8"/></g>
<path d="M451.05,352.40 L452.35,351.05 L452.35,358.95" stroke="#111" stroke-width="1.25" fill="none" stroke-linejoin="round"/>
<text x="0" y="0" font-size="11" text-anchor="start" stroke="#111" stroke-width="0.3" transform="translate(454.39,358.96) scale(0.82,1)">7</text>
<path d="M458,349 L467,324" stroke="#111" stroke-width="1.0" fill="none"/>
<g transform="translate(449,233) rotate(190) scale(-1.0,1.0)"><path d="M-11,1 L-6,0 L-5.5,8.5 L-10.5,9 Z" fill="#fff" stroke="#111" stroke-width="1.1" stroke-linejoin="round"/><path d="M-5.5,4 L6,3.5 L5,8.5 L-5.5,8.5 Z" fill="#fff" stroke="#111" stroke-width="1.0" stroke-linejoin="round"/><path d="M-2.5,4.5 L-2,8 M0.5,4.5 L1,8 M3.5,4 L3.5,8" stroke="#111" stroke-width="0.9"/><path d="M-7.2,0 A7.2,3.6 0 0 0 7.2,0 L7.2,1.8 A7.2,3.6 0 0 1 -7.2,1.8 Z" fill="#111"/><ellipse cx="0" cy="0" rx="7.2" ry="3.6" fill="#fff" stroke="#111" stroke-width="1.5"/><ellipse cx="0" cy="-0.4" rx="5.2" ry="2" fill="none" stroke="#111" stroke-width="0.8"/></g>
<path d="M456.45,203.90 L457.75,202.55 L457.75,210.45" stroke="#111" stroke-width="1.25" fill="none" stroke-linejoin="round"/>
<text x="0" y="0" font-size="11" text-anchor="start" stroke="#111" stroke-width="0.3" transform="translate(459.79,210.46) scale(0.82,1)">7</text>
<path d="M458.6,212 L452.5,226" stroke="#111" stroke-width="1.0" fill="none"/>
<g transform="translate(495.4,221.8) rotate(210) scale(-1.0,1.0)"><path d="M-11,1 L-6,0 L-5.5,8.5 L-10.5,9 Z" fill="#fff" stroke="#111" stroke-width="1.1" stroke-linejoin="round"/><path d="M-5.5,4 L6,3.5 L5,8.5 L-5.5,8.5 Z" fill="#fff" stroke="#111" stroke-width="1.0" stroke-linejoin="round"/><path d="M-2.5,4.5 L-2,8 M0.5,4.5 L1,8 M3.5,4 L3.5,8" stroke="#111" stroke-width="0.9"/><path d="M-7.2,0 A7.2,3.6 0 0 0 7.2,0 L7.2,1.8 A7.2,3.6 0 0 1 -7.2,1.8 Z" fill="#111"/><ellipse cx="0" cy="0" rx="7.2" ry="3.6" fill="#fff" stroke="#111" stroke-width="1.5"/><ellipse cx="0" cy="-0.4" rx="5.2" ry="2" fill="none" stroke="#111" stroke-width="0.8"/></g>
<g transform="translate(522.5,221) rotate(210) scale(-1.0,1.0)"><path d="M-11,1 L-6,0 L-5.5,8.5 L-10.5,9 Z" fill="#fff" stroke="#111" stroke-width="1.1" stroke-linejoin="round"/><path d="M-5.5,4 L6,3.5 L5,8.5 L-5.5,8.5 Z" fill="#fff" stroke="#111" stroke-width="1.0" stroke-linejoin="round"/><path d="M-2.5,4.5 L-2,8 M0.5,4.5 L1,8 M3.5,4 L3.5,8" stroke="#111" stroke-width="0.9"/><path d="M-7.2,0 A7.2,3.6 0 0 0 7.2,0 L7.2,1.8 A7.2,3.6 0 0 1 -7.2,1.8 Z" fill="#111"/><ellipse cx="0" cy="0" rx="7.2" ry="3.6" fill="#fff" stroke="#111" stroke-width="1.5"/><ellipse cx="0" cy="-0.4" rx="5.2" ry="2" fill="none" stroke="#111" stroke-width="0.8"/></g>
<path d="M472.05,187.40 L473.35,186.05 L473.35,193.95" stroke="#111" stroke-width="1.25" fill="none" stroke-linejoin="round"/>
<text x="0" y="0" font-size="11" text-anchor="start" stroke="#111" stroke-width="0.3" transform="translate(475.39,193.96) scale(0.82,1)">7</text>
<path d="M478.8,194.3 L490,212" stroke="#111" stroke-width="1.0" fill="none"/>
<path d="M538.05,248.40 L539.35,247.05 L539.35,254.95" stroke="#111" stroke-width="1.25" fill="none" stroke-linejoin="round"/>
<text x="0" y="0" font-size="11" text-anchor="start" stroke="#111" stroke-width="0.3" transform="translate(541.39,254.96) scale(0.82,1)">7</text>
<path d="M539.5,245.5 L527,225" stroke="#111" stroke-width="1.0" fill="none"/>
<text x="0" y="0" font-size="11" text-anchor="start" stroke="#111" stroke-width="0.3" transform="translate(521.99,266.96) scale(0.82,1)">4</text>
<path d="M521,261 L501,249.5" stroke="#111" stroke-width="1.0" fill="none"/>
<text x="0" y="0" font-size="11" text-anchor="start" stroke="#111" stroke-width="0.3" transform="translate(521.99,285.96) scale(0.82,1)">5</text>
<path d="M521,283 L496,286" stroke="#111" stroke-width="1.0" fill="none"/>
<g transform="translate(495.5,335) rotate(0) scale(1.0,1.0)"><path d="M-11,1 L-6,0 L-5.5,8.5 L-10.5,9 Z" fill="#fff" stroke="#111" stroke-width="1.1" stroke-linejoin="round"/><path d="M-5.5,4 L6,3.5 L5,8.5 L-5.5,8.5 Z" fill="#fff" stroke="#111" stroke-width="1.0" stroke-linejoin="round"/><path d="M-2.5,4.5 L-2,8 M0.5,4.5 L1,8 M3.5,4 L3.5,8" stroke="#111" stroke-width="0.9"/><path d="M-7.2,0 A7.2,3.6 0 0 0 7.2,0 L7.2,1.8 A7.2,3.6 0 0 1 -7.2,1.8 Z" fill="#111"/><ellipse cx="0" cy="0" rx="7.2" ry="3.6" fill="#fff" stroke="#111" stroke-width="1.5"/><ellipse cx="0" cy="-0.4" rx="5.2" ry="2" fill="none" stroke="#111" stroke-width="0.8"/></g>
<path d="M521.05,319.40 L522.35,318.05 L522.35,325.95" stroke="#111" stroke-width="1.25" fill="none" stroke-linejoin="round"/>
<text x="0" y="0" font-size="11" text-anchor="start" stroke="#111" stroke-width="0.3" transform="translate(524.39,325.96) scale(0.82,1)">7</text>
<path d="M519,324.5 L503,333.5" stroke="#111" stroke-width="1.0" fill="none"/>
<rect x="487" y="155" width="37.5" height="11.5" fill="#fff" stroke="#111" stroke-width="1.1"/>
<text x="505.75" y="165.25" font-size="12.5" text-anchor="middle" textLength="32.5" lengthAdjust="spacingAndGlyphs">63510</text>
<path d="M506,167 L519,189" stroke="#111" stroke-width="1.0" fill="none"/>
<rect x="560" y="226.5" width="34" height="11.5" fill="#fff" stroke="#111" stroke-width="1.1"/>
<text x="577.0" y="236.75" font-size="12.5" text-anchor="middle" textLength="29" lengthAdjust="spacingAndGlyphs">63510</text>
<path d="M561,229 L547,203" stroke="#111" stroke-width="1.0" fill="none"/>
<g transform="translate(507,207.5) rotate(-43.111811993259074)"><path d="M13,-3.4 L32.190837205639745,-3.4 M13,3.4 L32.190837205639745,3.4" stroke="#111" stroke-width="1.5"/><path d="M6,-3.9 L13,-3.6 L13,3.6 L6,3.9 Z" fill="#fff" stroke="#111" stroke-width="1.1"/><ellipse cx="13" cy="0" rx="1.5" ry="3.6" fill="#fff" stroke="#111" stroke-width="1.3"/><path d="M2,-2.6 L6,-3 L6,3 L2,2.6" fill="#fff" stroke="#111" stroke-width="1.1"/><ellipse cx="0" cy="0" rx="3.3" ry="3.8" fill="#fff" stroke="#111" stroke-width="1.4"/><ellipse cx="0" cy="0" rx="1.6" ry="2" fill="#fff" stroke="#111" stroke-width="1"/></g>
<path d="M521.5,181 L539.5,189" stroke="#111" stroke-width="1.0" fill="none"/>
<g transform="translate(534.5,207.7) rotate(-42.76882539196874)"><path d="M13,-3.4 L32.69311854198066,-3.4 M13,3.4 L32.69311854198066,3.4" stroke="#111" stroke-width="1.5"/><path d="M6,-3.9 L13,-3.6 L13,3.6 L6,3.9 Z" fill="#fff" stroke="#111" stroke-width="1.1"/><ellipse cx="13" cy="0" rx="1.5" ry="3.6" fill="#fff" stroke="#111" stroke-width="1.3"/><path d="M2,-2.6 L6,-3 L6,3 L2,2.6" fill="#fff" stroke="#111" stroke-width="1.1"/><ellipse cx="0" cy="0" rx="3.3" ry="3.8" fill="#fff" stroke="#111" stroke-width="1.4"/><ellipse cx="0" cy="0" rx="1.6" ry="2" fill="#fff" stroke="#111" stroke-width="1"/></g>
<path d="M548,180 L567.5,189" stroke="#111" stroke-width="1.0" fill="none"/>
<text x="0" y="0" font-size="11" text-anchor="start" stroke="#111" stroke-width="0.3" transform="translate(575.68,344.96) scale(0.82,1)">2</text>
<text x="0" y="0" font-size="11" text-anchor="start" stroke="#111" stroke-width="0.3" transform="translate(581.30,344.96) scale(0.82,1)">0</text>
<path d="M572,344 L550,348" stroke="#111" stroke-width="1.0" fill="none"/>
<path d="M517,345 L536,333 L547.5,339 L549,345.6 L550,355 L530.6,365 L530,356 L535,353 L535.6,346 L517.5,354 Z" stroke="#111" stroke-width="1.32" fill="#fff" stroke-linejoin="round" stroke-linecap="round"/>
<path d="M536,333 L535.6,346" stroke="#111" stroke-width="1.20" fill="none" stroke-linejoin="round" stroke-linecap="round"/>
<circle cx="521" cy="348" r="1.2" fill="#111"/><circle cx="543" cy="340.6" r="1.4" fill="#111"/><circle cx="546" cy="351" r="1" fill="#111"/><circle cx="535" cy="358.7" r="1.2" fill="#111"/>
<path d="M495.6,356 L495.6,398 Q496,404 504,402 L530,385 Q538,380 545,383 L558,393" stroke="#111" stroke-width="7" fill="none" stroke-linecap="butt" stroke-linejoin="round"/>
<path d="M495.6,356 L495.6,398 Q496,404 504,402 L530,385 Q538,380 545,383 L558,393" stroke="#fff" stroke-width="4.7" fill="none" stroke-linecap="butt" stroke-linejoin="round"/>
<g transform="translate(495.6,350.6) rotate(90)"><rect x="0" y="-3.6" width="12" height="7.2" fill="#fff" stroke="#111" stroke-width="1.1"/><path d="M6.6000000000000005,-3.6 L6.6000000000000005,3.6" stroke="#111" stroke-width="1.4"/><ellipse cx="0" cy="0" rx="2.16" ry="3.6" fill="#fff" stroke="#111" stroke-width="1.2"/></g>
<path d="M495,376 L518,365 L518,372 L514,374 L514,398 L508,399 L508,379 L499,383 L499,400" stroke="#111" stroke-width="1.32" fill="#fff" stroke-linejoin="round" stroke-linecap="round"/>
<circle cx="503.5" cy="377" r="1.1" fill="#111"/><circle cx="515" cy="371" r="1" fill="#111"/><circle cx="510.5" cy="385" r="1" fill="#111"/>
<g transform="translate(556,393) rotate(30)"><rect x="0" y="-3.8" width="9" height="7.6" fill="#fff" stroke="#111" stroke-width="1.1"/><path d="M4.95,-3.8 L4.95,3.8" stroke="#111" stroke-width="1.4"/><ellipse cx="0" cy="0" rx="2.28" ry="3.8" fill="#fff" stroke="#111" stroke-width="1.2"/></g>
<ellipse cx="564" cy="397.5" rx="2.4" ry="3.8" fill="#fff" stroke="#111" stroke-width="1.2" transform="rotate(30 564 397.5)"/>
<text x="0" y="0" font-size="11" text-anchor="start" stroke="#111" stroke-width="0.3" transform="translate(571.99,368.96) scale(0.82,1)">2</text>
<path d="M573,371 L559.5,391" stroke="#111" stroke-width="1.0" fill="none"/>
<g transform="translate(575.5,405) rotate(30) scale(-0.95,0.95)"><path d="M3,-9 L10,-8 L11,0 L4,1 Z" fill="#fff" stroke="#111" stroke-width="1.1" stroke-linejoin="round"/><path d="M3,1 L9,0.5 L8.5,8 L3,8" fill="#fff" stroke="#111" stroke-width="1.0" stroke-linejoin="round"/><path d="M4,3 L8,3 M4,5 L8,5.5" stroke="#111" stroke-width="1.0"/><path d="M0,-7.2 A4,7.2 0 0 1 0,7.2 L1.5,7.2 A4,7.2 0 0 0 1.5,-7.2 Z" fill="#111"/><ellipse cx="0" cy="0" rx="4" ry="7.2" fill="#fff" stroke="#111" stroke-width="1.5"/><ellipse cx="-0.5" cy="0" rx="2" ry="5" fill="none" stroke="#111" stroke-width="0.8"/></g>
<path d="M588.55,371.40 L589.85,370.05 L589.85,377.95" stroke="#111" stroke-width="1.25" fill="none" stroke-linejoin="round"/>
<text x="0" y="0" font-size="11" text-anchor="start" stroke="#111" stroke-width="0.3" transform="translate(591.89,377.96) scale(0.82,1)">8</text>
<path d="M588.75,379 L578,397" stroke="#111" stroke-width="1.0" fill="none"/>
<text x="0" y="0" font-size="11" text-anchor="start" stroke="#111" stroke-width="0.3" transform="translate(613.49,393.96) scale(0.82,1)">8</text>
<path d="M614.5,396 L602,413" stroke="#111" stroke-width="1.0" fill="none"/>
<path d="M596,416 L633,437 Q645,446 638,455 Q631,461 620,454" stroke="#111" stroke-width="10" fill="none" stroke-linecap="butt" stroke-linejoin="round"/>
<path d="M596,416 L633,437 Q645,446 638,455 Q631,461 620,454" stroke="#fff" stroke-width="7.6" fill="none" stroke-linecap="butt" stroke-linejoin="round"/>
<g transform="translate(581,410) rotate(30)"><rect x="0" y="-5" width="16" height="10" fill="#fff" stroke="#111" stroke-width="1.1"/><path d="M9,-5 L9,5" stroke="#111" stroke-width="1.8"/><ellipse cx="0" cy="0" rx="2.5" ry="5" fill="#fff" stroke="#111" stroke-width="1.1"/></g>
<path d="M527,449 L508,436 Q500,428 505,419 Q512,409 530,408 Q548,408 566,418 Q590,432 606,446" stroke="#111" stroke-width="9.5" fill="none" stroke-linecap="butt" stroke-linejoin="round"/>
<path d="M527,449 L508,436 Q500,428 505,419 Q512,409 530,408 Q548,408 566,418 Q590,432 606,446" stroke="#fff" stroke-width="7.1" fill="none" stroke-linecap="butt" stroke-linejoin="round"/>
<g transform="translate(605,445) rotate(35)"><rect x="0" y="-5.5" width="15" height="11" fill="#fff" stroke="#111" stroke-width="1.1"/><path d="M6,-5.5 L6,5.5" stroke="#111" stroke-width="1.8"/></g>
<ellipse cx="506" cy="427" rx="5" ry="4" fill="none" stroke="#111" stroke-width="1.2" transform="rotate(-30 506 427)"/>
<ellipse cx="527" cy="449" rx="2.5" ry="4" fill="#fff" stroke="#111" stroke-width="1.2" transform="rotate(-40 527 449)"/>
<g transform="translate(537.7,454.5) rotate(20) scale(-0.95,-0.95)"><path d="M3,-9 L10,-8 L11,0 L4,1 Z" fill="#fff" stroke="#111" stroke-width="1.1" stroke-linejoin="round"/><path d="M3,1 L9,0.5 L8.5,8 L3,8" fill="#fff" stroke="#111" stroke-width="1.0" stroke-linejoin="round"/><path d="M4,3 L8,3 M4,5 L8,5.5" stroke="#111" stroke-width="1.0"/><path d="M0,-7.2 A4,7.2 0 0 1 0,7.2 L1.5,7.2 A4,7.2 0 0 0 1.5,-7.2 Z" fill="#111"/><ellipse cx="0" cy="0" rx="4" ry="7.2" fill="#fff" stroke="#111" stroke-width="1.5"/><ellipse cx="-0.5" cy="0" rx="2" ry="5" fill="none" stroke="#111" stroke-width="0.8"/></g>
<path d="M550.05,433.40 L551.35,432.05 L551.35,439.95" stroke="#111" stroke-width="1.25" fill="none" stroke-linejoin="round"/>
<text x="0" y="0" font-size="11" text-anchor="start" stroke="#111" stroke-width="0.3" transform="translate(553.39,439.96) scale(0.82,1)">8</text>
<path d="M550,441 L542,447" stroke="#111" stroke-width="1.0" fill="none"/>
<g transform="translate(530,428)"><path d="M-9,-3 L9,-3 L10,5 L-8,7 Z" fill="#fff" stroke="#111" stroke-width="1.3"/><path d="M-5,1 L-5,7 M-2,1 L-2,7 M1,1 L1,7 M4,1 L4,6" stroke="#111" stroke-width="1.2"/></g>
<path d="M545,455 L564,465 Q566,469 563,471 L553,466 L550,471 Q546,472 545,468 L548,462 L544,460 Q542,456 545,455 Z" stroke="#111" stroke-width="1.32" fill="#fff" stroke-linejoin="round" stroke-linecap="round"/>
<ellipse cx="546.5" cy="469" rx="2.4" ry="3" fill="#fff" stroke="#111" stroke-width="1.1" transform="rotate(-30 546.5 469)"/>
<path d="M548.05,498.40 L549.35,497.05 L549.35,504.95" stroke="#111" stroke-width="1.25" fill="none" stroke-linejoin="round"/>
<text x="0" y="0" font-size="11" text-anchor="start" stroke="#111" stroke-width="0.3" transform="translate(551.39,504.96) scale(0.82,1)">3</text>
<path d="M551.75,470 L551.75,495" stroke="#111" stroke-width="1.0" fill="none"/>
<g transform="translate(572.4,476) rotate(20) scale(-0.95,0.95)"><path d="M3,-9 L10,-8 L11,0 L4,1 Z" fill="#fff" stroke="#111" stroke-width="1.1" stroke-linejoin="round"/><path d="M3,1 L9,0.5 L8.5,8 L3,8" fill="#fff" stroke="#111" stroke-width="1.0" stroke-linejoin="round"/><path d="M4,3 L8,3 M4,5 L8,5.5" stroke="#111" stroke-width="1.0"/><path d="M0,-7.2 A4,7.2 0 0 1 0,7.2 L1.5,7.2 A4,7.2 0 0 0 1.5,-7.2 Z" fill="#111"/><ellipse cx="0" cy="0" rx="4" ry="7.2" fill="#fff" stroke="#111" stroke-width="1.5"/><ellipse cx="-0.5" cy="0" rx="2" ry="5" fill="none" stroke="#111" stroke-width="0.8"/></g>
<path d="M564.05,509.90 L565.35,508.55 L565.35,516.45" stroke="#111" stroke-width="1.25" fill="none" stroke-linejoin="round"/>
<text x="0" y="0" font-size="11" text-anchor="start" stroke="#111" stroke-width="0.3" transform="translate(567.39,516.46) scale(0.82,1)">8</text>
<path d="M567.5,489 L567.5,506" stroke="#111" stroke-width="1.0" fill="none"/>
<path d="M531,420 L531,405 Q531,397 538,397 Q545,397 550,406 L557.5,419 L576,444 Q584,458 600,465 L648,490 Q666,501 662,509 Q656,516 642,511 L581,481" stroke="#111" stroke-width="10" fill="none" stroke-linecap="round" stroke-linejoin="round"/>
<path d="M531,420 L531,405 Q531,397 538,397 Q545,397 550,406 L557.5,419 L576,444 Q584,458 600,465 L648,490 Q666,501 662,509 Q656,516 642,511 L581,481" stroke="url(#st)" stroke-width="7.4" fill="none" stroke-linecap="round" stroke-linejoin="round"/>
<ellipse cx="581" cy="481" rx="2.8" ry="5" fill="#fff" stroke="#111" stroke-width="1.4" transform="rotate(-60 581 481)"/>
<ellipse cx="531" cy="420" rx="4.5" ry="2.5" fill="#fff" stroke="#111" stroke-width="1.2" transform="rotate(0 531 420)"/>
<path d="M584.05,522.40 L585.35,521.05 L585.35,528.95" stroke="#111" stroke-width="1.25" fill="none" stroke-linejoin="round"/>
<text x="0" y="0" font-size="11" text-anchor="start" stroke="#111" stroke-width="0.3" transform="translate(587.39,528.96) scale(0.82,1)">4</text>
<path d="M590,518 L602,500" stroke="#111" stroke-width="1.0" fill="none"/>
<g transform="translate(532,477) rotate(15) scale(0.95,0.95)"><path d="M3,-9 L10,-8 L11,0 L4,1 Z" fill="#fff" stroke="#111" stroke-width="1.1" stroke-linejoin="round"/><path d="M3,1 L9,0.5 L8.5,8 L3,8" fill="#fff" stroke="#111" stroke-width="1.0" stroke-linejoin="round"/><path d="M4,3 L8,3 M4,5 L8,5.5" stroke="#111" stroke-width="1.0"/><path d="M0,-7.2 A4,7.2 0 0 1 0,7.2 L1.5,7.2 A4,7.2 0 0 0 1.5,-7.2 Z" fill="#111"/><ellipse cx="0" cy="0" rx="4" ry="7.2" fill="#fff" stroke="#111" stroke-width="1.5"/><ellipse cx="-0.5" cy="0" rx="2" ry="5" fill="none" stroke="#111" stroke-width="0.8"/></g>
<path d="M502.55,453.40 L503.85,452.05 L503.85,459.95" stroke="#111" stroke-width="1.25" fill="none" stroke-linejoin="round"/>
<text x="0" y="0" font-size="11" text-anchor="start" stroke="#111" stroke-width="0.3" transform="translate(505.89,459.96) scale(0.82,1)">9</text>
<path d="M510,458.5 L525.75,471.6" stroke="#111" stroke-width="1.0" fill="none"/>
<g transform="translate(509.5,490) rotate(-30)"><rect x="0" y="-4.5" width="17" height="9" fill="#aaa" stroke="#111" stroke-width="1.8"/><ellipse cx="0" cy="0" rx="2.6" ry="4.5" fill="#fff" stroke="#111" stroke-width="1.3"/></g>
<path d="M489.45,456.80 L490.75,455.45 L490.75,463.35" stroke="#111" stroke-width="1.25" fill="none" stroke-linejoin="round"/>
<text x="0" y="0" font-size="11" text-anchor="start" stroke="#111" stroke-width="0.3" transform="translate(492.79,463.36) scale(0.82,1)">5</text>
<path d="M499.5,464 L511.75,483" stroke="#111" stroke-width="1.0" fill="none"/>
<g transform="translate(497.6,496.5) rotate(-25) scale(-0.95,0.95)"><path d="M3,-9 L10,-8 L11,0 L4,1 Z" fill="#fff" stroke="#111" stroke-width="1.1" stroke-linejoin="round"/><path d="M3,1 L9,0.5 L8.5,8 L3,8" fill="#fff" stroke="#111" stroke-width="1.0" stroke-linejoin="round"/><path d="M4,3 L8,3 M4,5 L8,5.5" stroke="#111" stroke-width="1.0"/><path d="M0,-7.2 A4,7.2 0 0 1 0,7.2 L1.5,7.2 A4,7.2 0 0 0 1.5,-7.2 Z" fill="#111"/><ellipse cx="0" cy="0" rx="4" ry="7.2" fill="#fff" stroke="#111" stroke-width="1.5"/><ellipse cx="-0.5" cy="0" rx="2" ry="5" fill="none" stroke="#111" stroke-width="0.8"/></g>
<path d="M473.65,465.40 L474.95,464.05 L474.95,471.95" stroke="#111" stroke-width="1.25" fill="none" stroke-linejoin="round"/>
<text x="0" y="0" font-size="11" text-anchor="start" stroke="#111" stroke-width="0.3" transform="translate(476.99,471.96) scale(0.82,1)">9</text>
<path d="M482,472.5 L490.75,487" stroke="#111" stroke-width="1.0" fill="none"/>
<path d="M482,505 L487,499 L491,504" stroke="#111" stroke-width="1.0" fill="none"/>
</g>
<path d="M588.9,472.4 Q580,468 574,469 L565,469.5 Q560,471 558,477 Q555,485 556,492 Q556,505 560,510 Q565,519 576.5,529 Q585,533 596,533.5 L606,534 Q616,536.5 624,538.5 Q632,538.5 640,535.5 Q650,531 658,525 Q665,521 668,516 Q669.5,510 669,503 Q668,495 665,490 Q661,486 655,483 Q648,480 640,478 Q630,476 620,474 Q608,470 600,467 Q591,462 588,455 Q586,447 585,440 Q583,431 580,425 Q576,418 571,413 Q563,404 556,398 Q548,391 540,388 Q530,386 525,388 Q520,391 518,398 Q516,406 515,413 Q514,419 516,423 Q520,426 530,427 Q540,430 549,436 Q559,443 567,450 Q574,456 579,462 Q584,467 588.9,472.4" fill="none" stroke="#e51c1c" stroke-width="4.3" stroke-linecap="round" stroke-linejoin="round"/>
</svg>
</body></html>
